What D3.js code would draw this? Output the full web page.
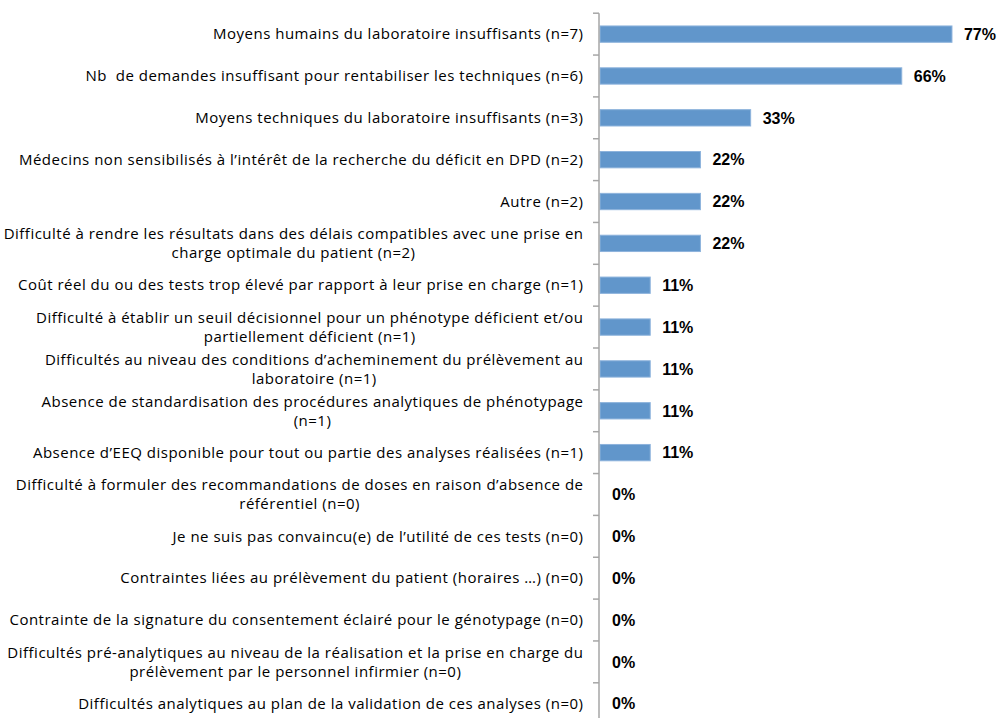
<!DOCTYPE html>
<html>
<head>
<meta charset="utf-8">
<script src="https://cdn.jsdelivr.net/npm/d3@7"></script>
<style>
  body { margin: 0; background: #fff; }
  text { font-family: "Open Sans", "Liberation Sans", Arial, sans-serif; white-space: pre; }
  text.val { font-family: "Liberation Sans", Arial, sans-serif; }
</style>
</head>
<body>
<div id="chart"></div>
<script>
// categories, top to bottom ("\n" = wrapped line)
var categories = [
  "Moyens humains du laboratoire insuffisants (n=7)",
  "Nb  de demandes insuffisant pour rentabiliser les techniques (n=6)",
  "Moyens techniques du laboratoire insuffisants (n=3)",
  "Médecins non sensibilisés à l’intérêt de la recherche du déficit en DPD (n=2)",
  "Autre (n=2)",
  "Difficulté à rendre les résultats dans des délais compatibles avec une prise en\ncharge optimale du patient (n=2)",
  "Coût réel du ou des tests trop élevé par rapport à leur prise en charge (n=1)",
  "Difficulté à établir un seuil décisionnel pour un phénotype déficient et/ou\npartiellement déficient (n=1)",
  "Difficultés au niveau des conditions d’acheminement du prélèvement au\nlaboratoire (n=1)",
  "Absence de standardisation des procédures analytiques de phénotypage\n(n=1)",
  "Absence d’EEQ disponible pour tout ou partie des analyses réalisées (n=1)",
  "Difficulté à formuler des recommandations de doses en raison d’absence de\nréférentiel (n=0)",
  "Je ne suis pas convaincu(e) de l’utilité de ces tests (n=0)",
  "Contraintes liées au prélèvement du patient (horaires …) (n=0)",
  "Contrainte de la signature du consentement éclairé pour le génotypage (n=0)",
  "Difficultés pré-analytiques au niveau de la réalisation et la prise en charge du\nprélèvement par le personnel infirmier (n=0)",
  "Difficultés analytiques au plan de la validation de ces analyses (n=0)"
];
var values = [77.8, 66.7, 33.3, 22.2, 22.2, 22.2, 11.1, 11.1, 11.1, 11.1, 11.1, 0, 0, 0, 0, 0, 0];

var W = 1002, H = 718;
var axisX = 599, plotTop = 13.2, band = 41.85;

var svg = d3.select("#chart").append("svg")
  .attr("width", W).attr("height", H);

var x = d3.scaleLinear().domain([0, 100]).range([axisX + 1, axisX + 1 + 452.4]);
var y = d3.scaleBand().domain(categories.map(function(d, i) { return i; }))
  .range([plotTop, plotTop + band * categories.length]).paddingInner(0.61).paddingOuter(0.305);

// bars
svg.selectAll(".bar").data(values).enter().append("rect")
  .attr("class", "bar")
  .attr("x", x(0))
  .attr("y", function(d, i) { return y(i); })
  .attr("width", function(d) { return x(d) - x(0); })
  .attr("height", y.bandwidth())
  .attr("fill", "#6196cb")
  .attr("stroke", "#8db3dc")
  .attr("stroke-width", 1)
  .style("display", function(d) { return d > 0 ? null : "none"; });

// value labels
svg.selectAll(".val").data(values).enter().append("text")
  .attr("class", "val")
  .attr("x", function(d) { return x(d) + 12; })
  .attr("y", function(d, i) { return y(i) + y.bandwidth() / 2; })
  .attr("dy", "0.36em")
  .attr("font-size", 16)
  .attr("font-weight", "bold")
  .attr("fill", "#000")
  .text(function(d) { return Math.floor(d) + "%"; });

// y axis line + ticks
var ax = svg.append("g");
ax.append("line")
  .attr("x1", axisX).attr("x2", axisX)
  .attr("y1", plotTop).attr("y2", plotTop + band * categories.length)
  .attr("stroke", "#a6a6a6").attr("stroke-width", 1.5);
d3.range(categories.length + 1).forEach(function(i) {
  ax.append("line")
    .attr("x1", axisX - 6).attr("x2", axisX)
    .attr("y1", plotTop + band * i).attr("y2", plotTop + band * i)
    .attr("stroke", "#a6a6a6").attr("stroke-width", 1.5);
});

// category labels (right edge at 583, wrapped lines centred on first)
var labelRight = 583.5, lineH = 19, fs = 15;
categories.forEach(function(c, i) {
  var lines = c.split("\n");
  var cy = y(i) + y.bandwidth() / 2;
  var g = svg.append("g");
  var t = g.selectAll("text").data(lines).enter().append("text")
    .attr("font-size", fs)
    .attr("letter-spacing", "0.5px")
    .attr("fill", "#000")
    .attr("y", function(d, j) { return cy + (j - (lines.length - 1) / 2) * lineH; })
    .attr("dy", "0.35em")
    .text(function(d) { return d; });
  var w = d3.max(t.nodes(), function(n) { return n.getComputedTextLength(); });
  t.attr("x", labelRight - w / 2).attr("text-anchor", "middle");
});
</script>
</body>
</html>
